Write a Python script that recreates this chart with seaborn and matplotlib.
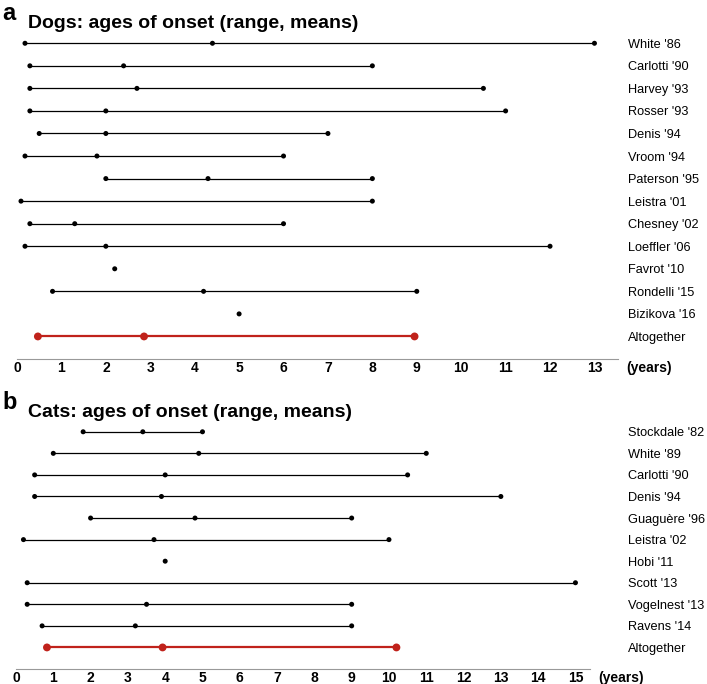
"""
Ages of onset (range + mean) for dogs and cats, by study.
Output: out.png
"""

import numpy as np
import pandas as pd
import matplotlib
matplotlib.use("Agg")
import matplotlib.pyplot as plt
import seaborn as sns

# ─── data ────────────────────────────────────────────────────────────────────
NAN = np.nan

dog_studies = ["White '86", "Carlotti '90", "Harvey '93", "Rosser '93", "Denis '94",
               "Vroom '94", "Paterson '95", "Leistra '01", "Chesney '02", "Loeffler '06",
               "Favrot '10", "Rondelli '15", "Bizikova '16", "Altogether"]
dog_min  = [0.18, 0.29, 0.29, 0.29, 0.5, 0.18, 2.0, 0.09, 0.29, 0.18, 2.2, 0.8, 5.0, 0.47]
dog_mean = [4.4, 2.4, 2.7, 2.0, 2.0, 1.8, 4.3, NAN, 1.3, 2.0, NAN, 4.2, NAN, 2.86]
dog_max  = [13.0, 8.0, 10.5, 11.0, 7.0, 6.0, 8.0, 8.0, 6.0, 12.0, 2.2, 9.0, 5.0, 8.95]

cat_studies = ["Stockdale '82", "White '89", "Carlotti '90", "Denis '94", "Guaguère '96",
               "Leistra '02", "Hobi '11", "Scott '13", "Vogelnest '13", "Ravens '14",
               "Altogether"]
cat_min  = [1.8, 1.0, 0.5, 0.5, 2.0, 0.2, 4.0, 0.3, 0.3, 0.7, 0.83]
cat_mean = [3.4, 4.9, 4.0, 3.9, 4.8, 3.7, NAN, NAN, 3.5, 3.2, 3.93]
cat_max  = [5.0, 11.0, 10.5, 13.0, 9.0, 10.0, 4.0, 15.0, 9.0, 9.0, 10.2]

dog_ticks = list(range(0, 14))
cat_ticks = list(range(0, 16))

# ─── style ───────────────────────────────────────────────────────────────────
RED = "#c0221b"
sns.set_theme(style="white")
plt.rcParams["font.family"] = ["Liberation Sans", "DejaVu Sans"]
plt.rcParams["text.color"] = "black"
plt.rcParams["xtick.color"] = "black"
plt.rcParams["ytick.color"] = "black"


def build_points(studies, lo, mid, hi):
    rows = []
    for i, s in enumerate(studies):
        grp = "all" if s == "Altogether" else "study"
        vals = {lo[i], hi[i]}
        if not np.isnan(mid[i]):
            vals.add(mid[i])
        for v in sorted(vals):
            rows.append({"study": s, "row": i, "age": v, "group": grp})
    return pd.DataFrame(rows)


def draw_panel(ax, studies, lo, mid, hi, ticks, xmax, ybottom, label_pad):
    n = len(studies)
    rows = np.arange(n)
    colors = [RED if s == "Altogether" else "black" for s in studies]
    widths = [1.6 if s == "Altogether" else 0.9 for s in studies]
    ax.hlines(rows, lo, hi, colors=colors, linewidths=widths, zorder=2)

    pts = build_points(studies, lo, mid, hi)
    sns.scatterplot(data=pts, x="age", y="row", hue="group", size="group",
                    palette={"study": "black", "all": RED},
                    sizes={"study": 13, "all": 32},
                    linewidth=0, legend=False, zorder=3, ax=ax)

    ax.set_xlim(0, xmax)
    ax.set_ylim(ybottom, -0.5)
    ax.set_xticks(ticks)
    ax.set_xticklabels([str(t) for t in ticks], fontweight="bold", fontsize=10)
    ax.set_yticks(rows)
    ax.set_yticklabels(studies, fontsize=9.2)
    ax.yaxis.tick_right()
    ax.tick_params(axis="y", length=0, pad=label_pad, labelcolor="black")
    ax.tick_params(axis="x", length=0, pad=1.5, labelcolor="black")
    ax.set_xlabel("")
    ax.set_ylabel("")
    for side in ["top", "left", "right"]:
        ax.spines[side].set_visible(False)
    ax.spines["bottom"].set_color("#999999")
    ax.spines["bottom"].set_linewidth(0.8)
    ax.annotate("(years)", xy=(1, 0), xycoords="axes fraction",
                xytext=(8, -9), textcoords="offset pixels",
                ha="left", va="center", fontweight="bold", fontsize=10)


fig = plt.figure(figsize=(7.07, 6.84), dpi=100)
W, H = 707, 684

ax_a = fig.add_axes([17 / W, 1 - 359 / H, (618 - 17) / W, (359 - 32) / H])
draw_panel(ax_a, dog_studies, dog_min, dog_mean, dog_max, dog_ticks, 13.53, 14.0, 7.5)

ax_b = fig.add_axes([16 / W, 1 - 669 / H, (590 - 16) / W, (669 - 421) / H])
draw_panel(ax_b, cat_studies, cat_min, cat_mean, cat_max, cat_ticks, 15.39, 11.0, 27)

fig.text(2 / W, 1 - 14 / H, "a", fontsize=17, fontweight="bold", va="center")
fig.text(28 / W, 1 - 23 / H, "Dogs: ages of onset (range, means)",
         fontsize=14, fontweight="bold", va="center")
fig.text(2 / W, 1 - 402 / H, "b", fontsize=17, fontweight="bold", va="center")
fig.text(28 / W, 1 - 413 / H, "Cats: ages of onset (range, means)",
         fontsize=14, fontweight="bold", va="center")

fig.savefig("out.png", dpi=100)
plt.close(fig)
